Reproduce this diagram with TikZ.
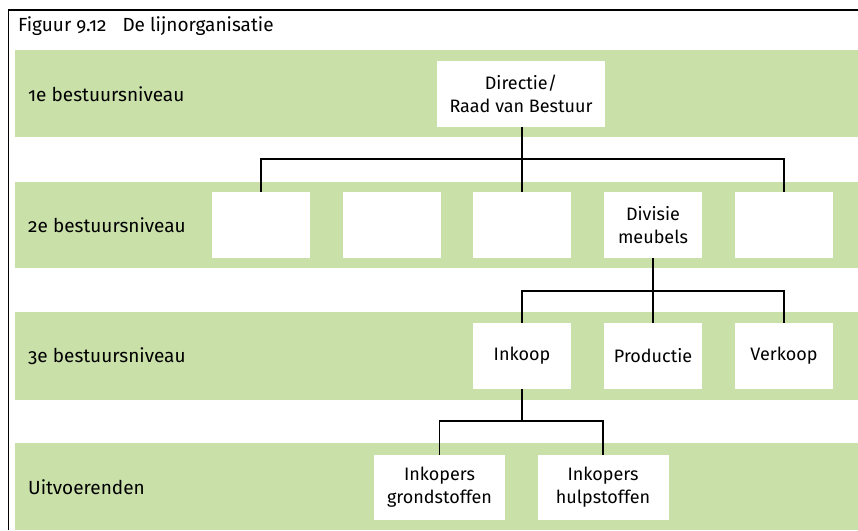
\documentclass[tikz,border=0pt]{standalone}
\usepackage{fontspec}
\setmainfont{Fira Sans}[Numbers=OldStyle]
\definecolor{bandgreen}{HTML}{C9E0A9}
\begin{document}
\begin{tikzpicture}[x=1pt,y=-1pt,
  band/.style={fill=bandgreen,draw=none},
  txt/.style={font=\fontsize{18}{23}\selectfont},
  orgbox/.style={txt,fill=white,draw=none,minimum width=98pt,minimum height=66pt,inner sep=0pt,align=center},
  lvl/.style={font=\fontsize{19}{23}\selectfont,anchor=west,inner sep=0pt},
  link/.style={draw=black,line width=1.3pt}]
\useasboundingbox (0,0) rectangle (858,530);
\fill[white] (0,0) rectangle (858,530);

% level bands
\fill[band] (15,50) rectangle (858,137);
\fill[band] (15,182) rectangle (858,268);
\fill[band] (15,312) rectangle (858,400);
\fill[band] (15,443) rectangle (858,530);

% frame and heading
\draw[line width=1.6pt] (8.5,530) -- (8.5,10) -- (858,10);
\node[font=\fontsize{19}{23}\selectfont,anchor=base west,inner sep=0pt] (title) at (18,31) {Figuur 9.12\hspace{16pt}De lijnorganisatie};

% level labels
\node[lvl] (l1) at (28,94) {1e bestuursniveau};
\node[lvl] (l2) at (28,225) {2e bestuursniveau};
\node[lvl] (l3) at (28,356) {3e bestuursniveau};
\node[lvl] (l4) at (28,487) {Uitvoerenden};

% boxes
\node[orgbox,minimum width=168pt] (dir) at (521,94) {Directie/\\Raad van Bestuur};
\node[orgbox] (b1) at (261,225) {};
\node[orgbox] (b2) at (392,225) {};
\node[orgbox] (b3) at (522,225) {};
\node[orgbox] (b4) at (653,225) {Divisie\\meubels};
\node[orgbox] (b5) at (784,225) {};
\node[orgbox] (ink) at (522,356) {Inkoop};
\node[orgbox] (prod) at (653,356) {Productie};
\node[orgbox] (verk) at (784,356) {Verkoop};
\node[orgbox,minimum width=131pt,minimum height=65pt] (grond) at (439.5,487.5) {Inkopers\\grondstoffen};
\node[orgbox,minimum width=131pt,minimum height=65pt] (hulp) at (603,487.5) {Inkopers\\hulpstoffen};

% connectors
\coordinate (j1) at (522,159);
\coordinate (j2) at (653,291);
\coordinate (j3) at (522,421);
\draw[link] (b3.north |- dir.south) -- (b3.north);
\draw[link] (b1.north) -- (b1.north |- j1) -- (b5.north |- j1) -- (b5.north);
\draw[link] (b4.south) -- (prod.north);
\draw[link] (ink.north) -- (ink.north |- j2) -- (verk.north |- j2) -- (verk.north);
\draw[link] (ink.south) -- (j3);
\draw[link] (grond.north) -- (grond.north |- j3) -- (hulp.north |- j3) -- (hulp.north);
\end{tikzpicture}
\end{document}
